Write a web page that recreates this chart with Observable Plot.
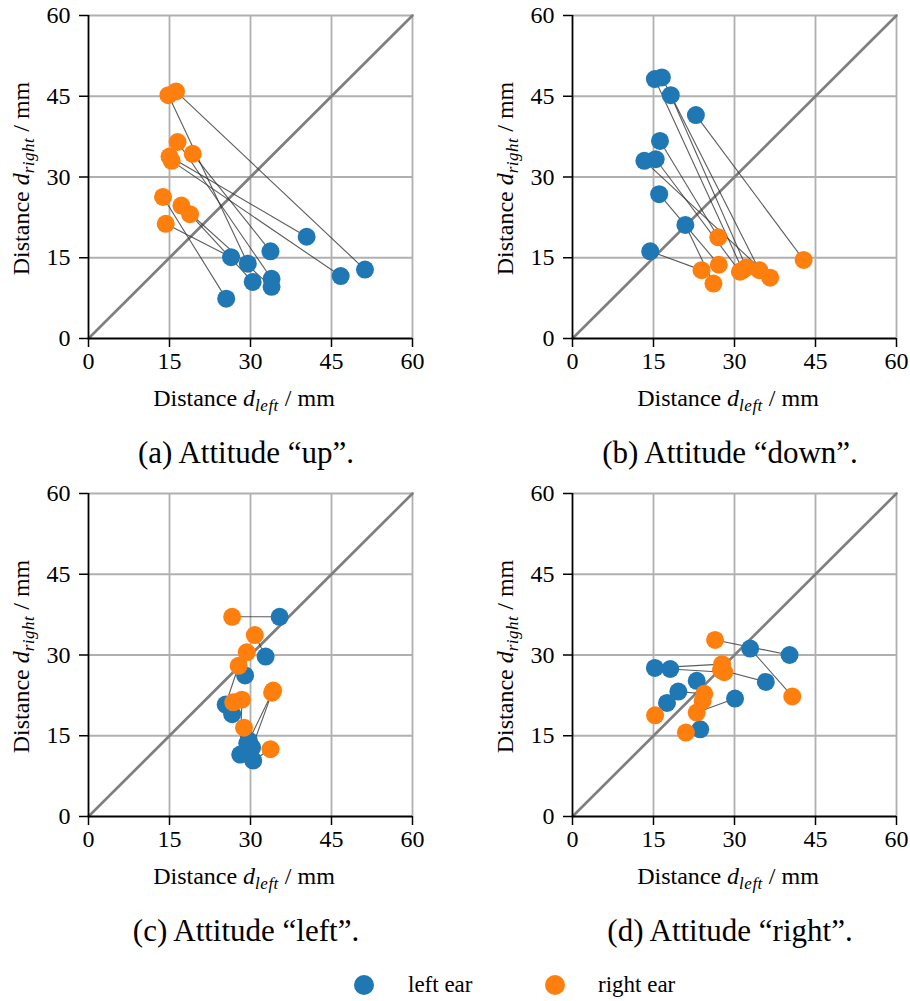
<!DOCTYPE html>
<html>
<head>
<meta charset="utf-8">
<script src="https://cdn.jsdelivr.net/npm/d3@7"></script>
<script src="https://cdn.jsdelivr.net/npm/@observablehq/plot@0.6"></script>
<style>
  html, body { margin: 0; padding: 0; background: #fff; }
  #fig { position: relative; width: 910px; height: 1001px; font-family: "Liberation Serif", "Times New Roman", serif; color: #000; overflow: hidden; }
  .panel { position: absolute; width: 455px; height: 420px; }
  .panel svg { max-width: none !important; font-family: "Liberation Serif", "Times New Roman", serif !important; }
  .panel svg text, .panel svg tspan { font-family: "Liberation Serif", "Times New Roman", serif !important; }
  .caption { position: absolute; width: 420px; text-align: center; font-size: 31px; line-height: 36px; white-space: nowrap; }
  .legend { position: absolute; top: 972px; left: 0; width: 910px; height: 28px; font-size: 23px; }
  .legend .sw { position: absolute; top: 3px; width: 20px; height: 20px; border-radius: 50%; }
  .legend .lb { position: absolute; top: 0; line-height: 26px; }
</style>
</head>
<body>
<div id="fig"></div>
<script>
// ---------- data (left ear = blue, right ear = orange); each index is one paired measurement ----------
const tickValues = [0, 15, 30, 45, 60];
const diagonal = [0, 60];
const captions = ["(a) Attitude \u201Cup\u201D.", "(b) Attitude \u201Cdown\u201D.", "(c) Attitude \u201Cleft\u201D.", "(d) Attitude \u201Cright\u201D."];
const seriesNames = ["left ear", "right ear"];
const seriesColors = ["#1f77b4", "#ff7f0e"];

// (a) up
const upLeftEarX  = [29.5, 51.2, 33.9, 40.4, 46.7, 33.7, 25.5, 33.9, 30.4, 26.4];
const upLeftEarY  = [13.9, 12.8, 11.1, 18.9, 11.6, 16.2,  7.4,  9.6, 10.5, 15.1];
const upRightEarX = [14.8, 16.2, 16.5, 15.0, 15.4, 19.3, 13.8, 17.2, 18.8, 14.3];
const upRightEarY = [45.2, 45.9, 36.5, 33.8, 33.0, 34.3, 26.3, 24.7, 23.1, 21.3];

// (b) down
const downLeftEarX  = [15.25, 16.55, 18.2, 22.85, 16.2, 13.3, 15.4, 16.05, 20.9, 14.4];
const downLeftEarY  = [48.2, 48.5, 45.2, 41.5, 36.7, 33.0, 33.3, 26.8, 21.1, 16.2];
const downRightEarX = [31.5, 34.6, 32.2, 42.8, 27.0, 36.6, 31.0, 27.1, 26.1, 23.9];
const downRightEarY = [12.7, 12.7, 13.2, 14.6, 18.8, 11.3, 12.4, 13.7, 10.2, 12.7];

// (c) left
const leftLeftEarX  = [35.4, 32.8, 29.0, 25.4, 29.7, 30.3, 26.6, 28.1, 29.4, 30.5];
const leftLeftEarY  = [37.1, 29.7, 26.2, 20.8, 14.1, 12.8, 19.0, 11.5, 13.6, 10.4];
const leftRightEarX = [26.6, 30.8, 29.3, 27.8, 34.2, 34.0, 26.8, 28.4, 28.8, 33.7];
const leftRightEarY = [37.1, 33.7, 30.5, 28.0, 23.4, 23.0, 21.2, 21.7, 16.5, 12.5];

// (d) right
const rightLeftEarX  = [40.2, 32.9, 15.25, 18.1, 35.8, 30.1, 19.6, 23.0, 17.5, 23.65];
const rightLeftEarY  = [30.0, 31.2, 27.6, 27.4, 25.0, 21.9, 23.2, 25.2, 21.1, 16.2];
const rightRightEarX = [26.4, 40.7, 27.7, 28.1, 27.5, 23.0, 24.4, 24.1, 15.3, 21.0];
const rightRightEarY = [32.8, 22.3, 28.3, 26.8, 27.2, 19.3, 22.8, 21.5, 18.8, 15.6];

// ---------- layout ----------
const W = 455, H = 420, ML = 88, MR = 43, MT = 15, MB = 82;
const FONT = '"Liberation Serif", "Times New Roman", serif';
const panels = [
  {caption: captions[0], lx: upLeftEarX, ly: upLeftEarY, rx: upRightEarX, ry: upRightEarY, ox: 0, oy: 0},
  {caption: captions[1], lx: downLeftEarX, ly: downLeftEarY, rx: downRightEarX, ry: downRightEarY, ox: 484, oy: 0},
  {caption: captions[2], lx: leftLeftEarX, ly: leftLeftEarY, rx: leftRightEarX, ry: leftRightEarY, ox: 0, oy: 478},
  {caption: captions[3], lx: rightLeftEarX, ly: rightLeftEarY, rx: rightRightEarX, ry: rightRightEarY, ox: 484, oy: 478}
];

const fig = document.getElementById("fig");

function addMathLabel(textSel, sub) {
  textSel.append("tspan").text("Distance ");
  textSel.append("tspan").attr("font-style", "italic").text("d");
  textSel.append("tspan").attr("font-style", "italic").attr("font-size", "17px").attr("dy", "5").attr("letter-spacing", "0.5px").text(sub);
  textSel.append("tspan").attr("dy", "-5").text(" / mm");
}

for (const p of panels) {
  const rows = p.lx.map((_, i) => ({lx: p.lx[i], ly: p.ly[i], rx: p.rx[i], ry: p.ry[i]}));
  const svg = Plot.plot({
    width: W, height: H,
    marginLeft: ML, marginRight: MR, marginTop: MT, marginBottom: MB,
    x: {domain: [0, 60]},
    y: {domain: [0, 60]},
    style: {fontFamily: FONT, fontSize: "23px", background: "transparent", overflow: "visible", color: "#000", maxWidth: "none"},
    marks: [
      Plot.gridX(tickValues.slice(1), {stroke: "#b0b0b0", strokeOpacity: 1, strokeWidth: 1.8}),
      Plot.gridY(tickValues.slice(1), {stroke: "#b0b0b0", strokeOpacity: 1, strokeWidth: 1.8}),
      Plot.line(diagonal, {x: d => d, y: d => d, stroke: "#7f7f7f", strokeWidth: 2.7}),
      Plot.link(rows, {x1: "lx", y1: "ly", x2: "rx", y2: "ry", stroke: "#333", strokeOpacity: 0.8, strokeWidth: 1.1}),
      Plot.dot(rows, {x: "lx", y: "ly", r: 9, fill: seriesColors[0]}),
      Plot.dot(rows, {x: "rx", y: "ry", r: 9, fill: seriesColors[1]}),
      Plot.ruleX([0], {stroke: "#000", strokeWidth: 1.8}),
      Plot.ruleY([0], {stroke: "#000", strokeWidth: 1.8}),
      Plot.axisX(tickValues, {label: null, tickSize: 9, tickPadding: 4, strokeWidth: 1.5, fontSize: 24}),
      Plot.axisY(tickValues, {label: null, tickSize: 9, tickPadding: 9, strokeWidth: 1.5, fontSize: 24})
    ]
  });
  svg.style.maxWidth = "none";
  svg.style.fontFamily = FONT;
  const s = d3.select(svg);
  s.selectAll("text").attr("font-family", FONT);
  const cx = ML + (W - ML - MR) / 2;
  const cy = MT + (H - MT - MB) / 2;
  const xl = s.append("text").attr("x", cx - 6).attr("y", 406).attr("text-anchor", "middle")
    .attr("font-family", FONT).attr("font-size", "24px").attr("fill", "#000");
  addMathLabel(xl, "left");
  const yl = s.append("text").attr("transform", `translate(29,${cy + 2}) rotate(-90)`).attr("text-anchor", "middle")
    .attr("font-family", FONT).attr("font-size", "24px").attr("fill", "#000");
  addMathLabel(yl, "right");

  const div = document.createElement("div");
  div.className = "panel";
  div.style.left = p.ox + "px";
  div.style.top = p.oy + "px";
  div.appendChild(svg);
  fig.appendChild(div);

  const cap = document.createElement("div");
  cap.className = "caption";
  cap.textContent = p.caption;
  cap.style.left = (p.ox + cx - 4 - 210) + "px";
  cap.style.top = (p.oy + 453 - 18) + "px";
  fig.appendChild(cap);
}

// legend
const legend = document.createElement("div");
legend.className = "legend";
const swX = [354, 545], lbX = [408, 598];
seriesNames.forEach((name, i) => {
  const sw = document.createElement("div");
  sw.className = "sw";
  sw.style.left = swX[i] + "px";
  sw.style.background = seriesColors[i];
  legend.appendChild(sw);
  const lb = document.createElement("div");
  lb.className = "lb";
  lb.style.left = lbX[i] + "px";
  lb.textContent = name;
  legend.appendChild(lb);
});
fig.appendChild(legend);
</script>
</body>
</html>
